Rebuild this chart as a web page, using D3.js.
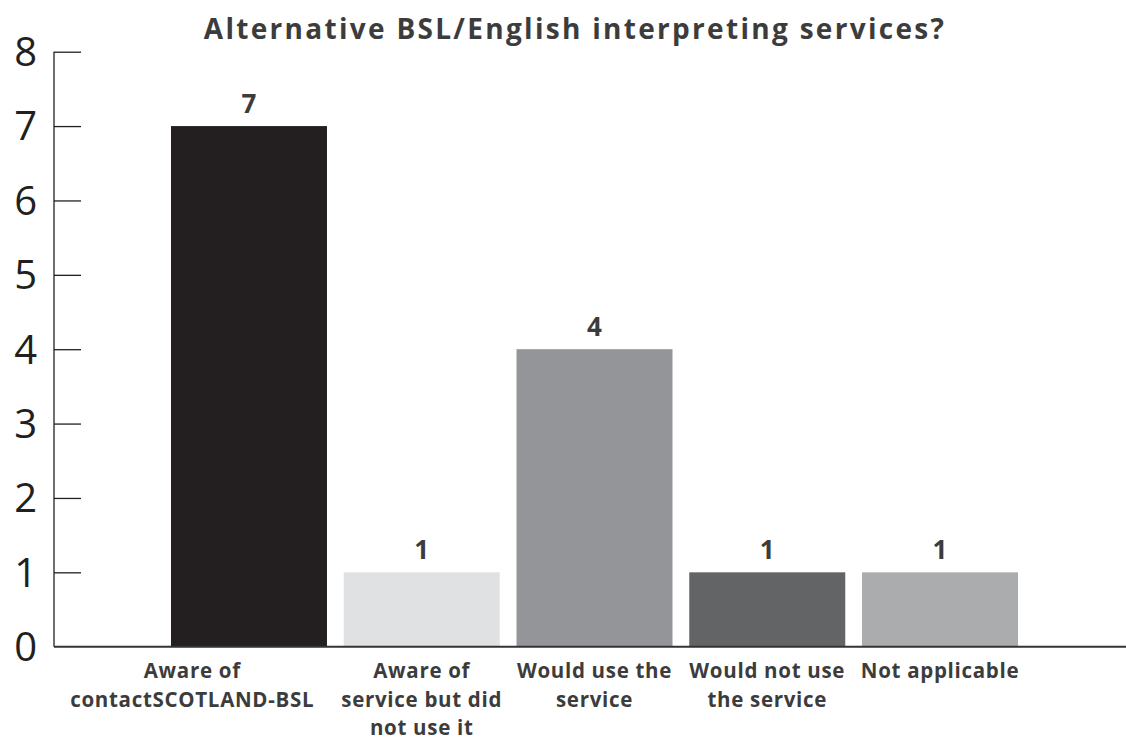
<!DOCTYPE html>
<html>
<head>
<meta charset="utf-8">
<script src="https://cdn.jsdelivr.net/npm/d3@7"></script>
<style>
  html, body { margin: 0; padding: 0; background: #ffffff; }
  svg { display: block; }
  text { font-family: "Open Sans", Lato, sans-serif; }
</style>
</head>
<body>
<svg id="chart" width="1126" height="738"></svg>
<script>
// Survey responses: awareness and use of alternative interpreting services
const categories = [
  ["Aware of", "contactSCOTLAND-BSL"],
  ["Aware of", "service but did", "not use it"],
  ["Would use the", "service"],
  ["Would not use", "the service"],
  ["Not applicable"]
];
const counts = [7, 1, 4, 1, 1];
const barColors = ["#231f20", "#e0e1e2", "#939598", "#636466", "#abacae"];
const yTicks = [0, 1, 2, 3, 4, 5, 6, 7, 8];
const title = "Alternative BSL/English interpreting services?";

const svg = d3.select("#chart");
const W = 1126;

const keys = categories.map(c => c.join(" "));

const x = d3.scaleBand()
  .domain(keys)
  .range([162.6, 1026.4])
  .paddingInner(0.097)
  .paddingOuter(0.0485);

const y = d3.scaleLinear()
  .domain([0, 8])
  .range([646.7, 51.7]);

const axisX = 54;
const labelColor = "#3c3c3c";

// Title
svg.append("text")
  .attr("x", 575)
  .attr("y", 39)
  .attr("text-anchor", "middle")
  .attr("font-size", 28)
  .attr("font-weight", 700)
  .attr("letter-spacing", 2.3)
  .attr("fill", labelColor)
  .text(title);

// Bars
svg.selectAll("rect.bar")
  .data(counts)
  .join("rect")
  .attr("class", "bar")
  .attr("x", (d, i) => x(keys[i]))
  .attr("width", x.bandwidth())
  .attr("y", d => y(d))
  .attr("height", d => y(0) - y(d))
  .attr("fill", (d, i) => barColors[i]);

// Value labels above bars
svg.selectAll("text.value")
  .data(counts)
  .join("text")
  .attr("class", "value")
  .attr("x", (d, i) => x(keys[i]) + x.bandwidth() / 2)
  .attr("y", d => y(d) - 13)
  .attr("text-anchor", "middle")
  .attr("font-size", 26)
  .attr("font-weight", 700)
  .attr("fill", labelColor)
  .text(d => d);

// Y axis: ticks point inward, large numerals on the left
const yAxis = d3.axisRight(y)
  .tickValues(yTicks.slice(1))
  .tickSize(27)
  .tickFormat("");
const gy = svg.append("g")
  .attr("transform", `translate(${axisX},0)`)
  .call(yAxis);
gy.select(".domain").remove();
gy.selectAll(".tick line").attr("stroke", "#231f20").attr("stroke-width", 1.3);

svg.append("line")
  .attr("x1", axisX).attr("x2", axisX)
  .attr("y1", y(8)).attr("y2", y(0))
  .attr("stroke", "#231f20").attr("stroke-width", 1.3);

svg.selectAll("text.ytick")
  .data(yTicks)
  .join("text")
  .attr("class", "ytick")
  .attr("x", 37)
  .attr("y", d => y(d))
  .attr("dy", "0.36em")
  .attr("text-anchor", "end")
  .attr("font-family", "Lato, sans-serif")
  .attr("font-size", 40)
  .attr("font-weight", 400)
  .attr("fill", "#231f20")
  .text(d => d);

// Baseline
svg.append("line")
  .attr("x1", axisX).attr("x2", W)
  .attr("y1", y(0)).attr("y2", y(0))
  .attr("stroke", "#333333").attr("stroke-width", 2);

// Category labels (multi-line), centred under their bars
const catG = svg.selectAll("text.cat")
  .data(categories)
  .join("text")
  .attr("class", "cat")
  .attr("text-anchor", "middle")
  .attr("font-size", 20.5)
  .attr("font-weight", 700)
  .attr("letter-spacing", 0.7)
  .attr("fill", labelColor);

catG.each(function(lines, i) {
  const cx = x(keys[i]) + x.bandwidth() / 2;
  d3.select(this).selectAll("tspan")
    .data(lines)
    .join("tspan")
    .attr("x", cx)
    .attr("y", (l, j) => 678 + j * 28.5)
    .text(l => l);
});

// Slide a label leftwards when it would run into the next one
const minGap = 14, shiftGap = 27;
const nodes = catG.nodes();
for (let i = nodes.length - 2; i >= 0; i--) {
  const a = nodes[i].getBBox();
  const b = nodes[i + 1].getBBox();
  if (a.x + a.width + minGap > b.x) {
    const dx = a.x + a.width + shiftGap - b.x;
    d3.select(nodes[i]).selectAll("tspan")
      .attr("x", function() { return +this.getAttribute("x") - dx; });
  }
}
</script>
</body>
</html>
